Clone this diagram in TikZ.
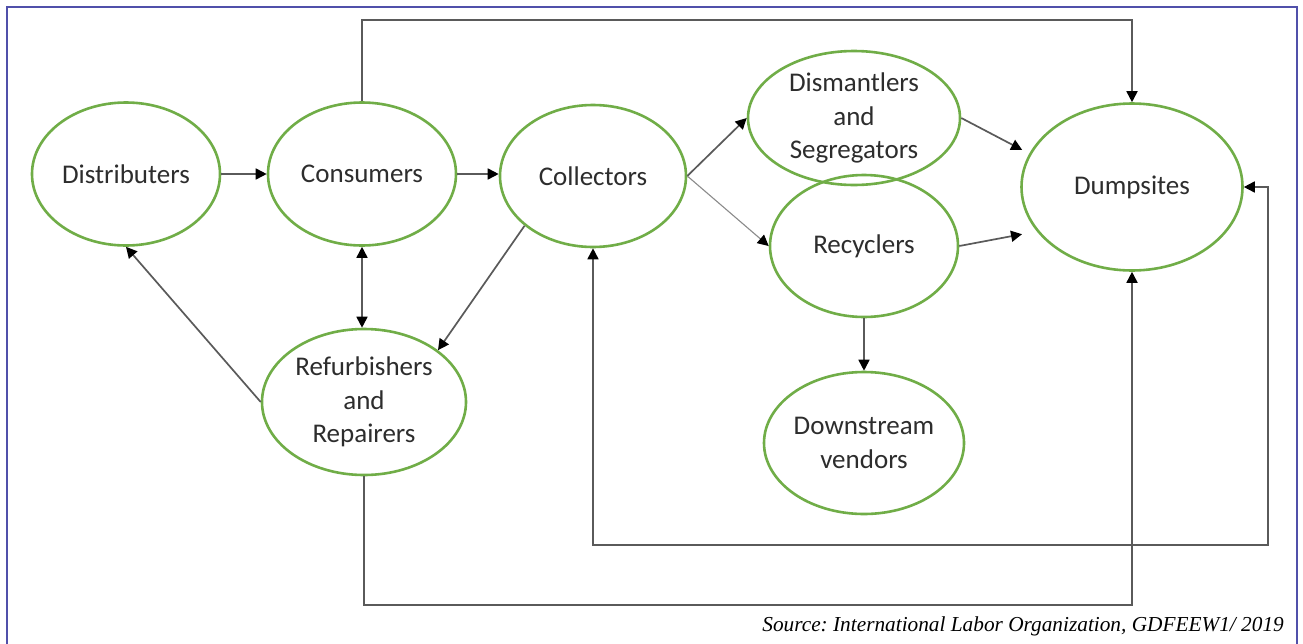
\documentclass[tikz,border=0pt]{standalone}
\usepackage{fontspec}
\setmainfont{Carlito}
\newfontfamily\srcfont{Liberation Serif}
\usetikzlibrary{shapes.geometric,arrows.meta,calc}
\definecolor{nodegreen}{RGB}{112,173,71}
\definecolor{framecol}{RGB}{80,80,170}
\definecolor{linegray}{RGB}{90,90,90}
\definecolor{txtgray}{RGB}{45,45,45}
\frenchspacing
\tikzset{
  tip/.tip={Triangle[length=11pt,width=11pt,color=black]},
  bub/.style={ellipse, draw=nodegreen, line width=2.6pt, inner sep=0pt, align=center,
    text=txtgray, font=\fontsize{27}{33.5}\selectfont},
  conn/.style={draw=linegray, line width=1.7pt, -tip},
  thinconn/.style={draw=linegray!70, line width=1.1pt, -tip},
  bothconn/.style={draw=linegray, line width=1.7pt, tip-tip},
}
\begin{document}
\begin{tikzpicture}[x=1pt,y=-1pt]
\useasboundingbox (0,0) rectangle (1303,643);
\fill[white] (0,0) rectangle (1303,643);
% frame
\draw[framecol, line width=2pt] (7,650) -- (7,6.5) -- (1297,6.5) -- (1297,650);

% nodes
\node[bub, minimum width=188pt, minimum height=143pt] (dist) at (126,174) {Distributers};
\node[bub, minimum width=188pt, minimum height=143pt] (cons) at (362,174) {Consumers};
\node[bub, minimum width=186pt, minimum height=142pt] (coll) at (593,176) {Collectors};
\node[bub, minimum width=212pt, minimum height=134pt] (dism) at (854,118) {Dismantlers\\and\\Segregators};
\node[bub, minimum width=188pt, minimum height=142pt] (recy) at (864,246) {Recyclers};
\node[bub, minimum width=221pt, minimum height=167pt] (dump) at (1132,187) {Dumpsites};
\node[bub, minimum width=204pt, minimum height=146pt] (refu) at (364,402) {Refurbishers\\and\\Repairers};
\node[bub, minimum width=200pt, minimum height=142pt] (down) at (864,443) {Downstream\\vendors};

% coordinates for bends
\coordinate (tl) at (362,20);
\coordinate (bl) at (593,545);
\coordinate (br) at (1268,545);
\coordinate (rb) at (364,605);

% connectors
\draw[conn] (dist.east) -- (dist.east -| cons.west);
\draw[conn] (cons.east) -- (cons.east -| coll.west);
\draw[conn] (cons.north) -- (tl) -| (dump.north);
\draw[bothconn] (cons.south) -- (cons.south |- refu.north);
\draw[conn] (coll.216) -- (refu.35);
\draw[conn] (refu.west) -- (dist.south);
\draw[conn] (coll.east) -- (dism.west);
\draw[thinconn] (coll.east) -- (recy.west);
\draw[conn, shorten >=8pt] (dism.east) -- (dump.162);
\draw[conn, shorten >=15pt] (recy.east) -- (dump.205);
\draw[conn] (recy.south) -- (down.north);
\draw[conn] (refu.south) -- (rb) -| (dump.south);
\draw[bothconn] (coll.south) -- (bl) -- (br) |- (dump.east);

% source
\node[anchor=base east, inner sep=0pt, font=\srcfont\itshape\fontsize{21.3}{25}\selectfont] (src) at (1284,631)
  {Source: International Labor Organization, GDFEEW1/ 2019};
\end{tikzpicture}
\end{document}
